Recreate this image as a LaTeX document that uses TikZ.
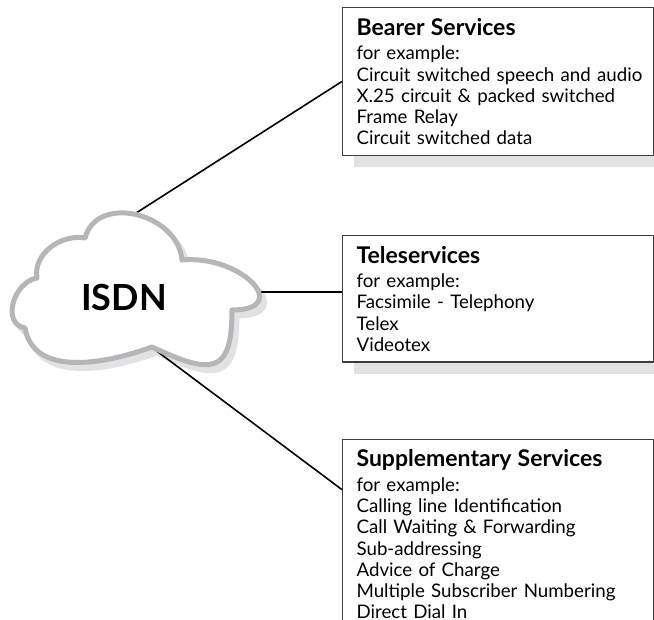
\documentclass[tikz,border=0pt]{standalone}
\usepackage{fontspec}
\setmainfont{Lato}
\usepackage{tikz}
\usetikzlibrary{positioning,calc,shadows}
\definecolor{cloudgray}{HTML}{B4B6B9}
\definecolor{shadegray}{HTML}{E1E2E4}
\definecolor{framegray}{HTML}{3C3C3C}
\newcommand{\cloudoutline}{(85,382) to[out=75,in=95,looseness=1.2] (182,360)
  to[out=5,in=0,looseness=2.2] (232,310) to[out=-90,in=-25,looseness=1.9] (152,273)
  to[out=-160,in=-80] (25,292) to[out=170,in=190,looseness=1.2] (37,342)
  to[out=100,in=170] cycle}
\newcommand{\srvtitle}[1]{{\fontsize{23}{26}\selectfont\bfseries #1}\\[3.5pt]}

\begin{document}
\begin{tikzpicture}[x=1pt,y=1pt,line join=round,
    srvbox/.style={draw=framegray, line width=1.2pt, fill=white, anchor=north west,
      text width=283pt, inner xsep=14pt, inner ysep=10.5pt, align=left,
      font=\fontsize{18.7}{21.2}\selectfont,
      drop shadow={shadow xshift=11pt, shadow yshift=-12pt, fill=shadegray, opacity=1}},
    wire/.style={line width=1.6pt, black}]
  \useasboundingbox (0,0) rectangle (654,620);
  % points where the wires leave the cloud
  \coordinate (isdn-n) at (133,405);
  \coordinate (isdn-e) at (259,328);
  \coordinate (isdn-s) at (150,274);

  \node[srvbox] (bearer) at (342,613) {\srvtitle{Bearer Services}
    for example:\\
    \mbox{Circuit switched speech and audio}\\
    X.25 circuit \& packed switched\\
    Frame Relay\\
    Circuit switched data};
  \node[srvbox, below=79pt of bearer] (tele) {\srvtitle{Teleservices}
    for example:\\
    Facsimile - Telephony\\
    Telex\\
    Videotex};
  \node[srvbox, below=76pt of tele] (supp) {\srvtitle{Supplementary Services}
    for example:\\
    Calling line Identification\\
    Call Waiting \& Forwarding\\
    Sub-addressing\\
    Advice of Charge\\
    Multiple Subscriber Numbering\\
    Direct Dial In};

  % cloud shadow first, the wires run over it
  \draw[shadegray, fill=shadegray, line width=5pt, shift={(5,-6)}] \cloudoutline;
  \draw[wire] (isdn-n) -- (bearer.west);
  \draw[wire] (isdn-e) -- (isdn-e -| tele.west);
  \draw[wire] (isdn-s) -- ($(supp.north west)+(0,-51)$);
  \draw[cloudgray, fill=white, line width=5pt] \cloudoutline;
  \node[font=\fontsize{36}{36}\selectfont\bfseries] (isdn) at (124,323) {ISDN};
\end{tikzpicture}
\end{document}
